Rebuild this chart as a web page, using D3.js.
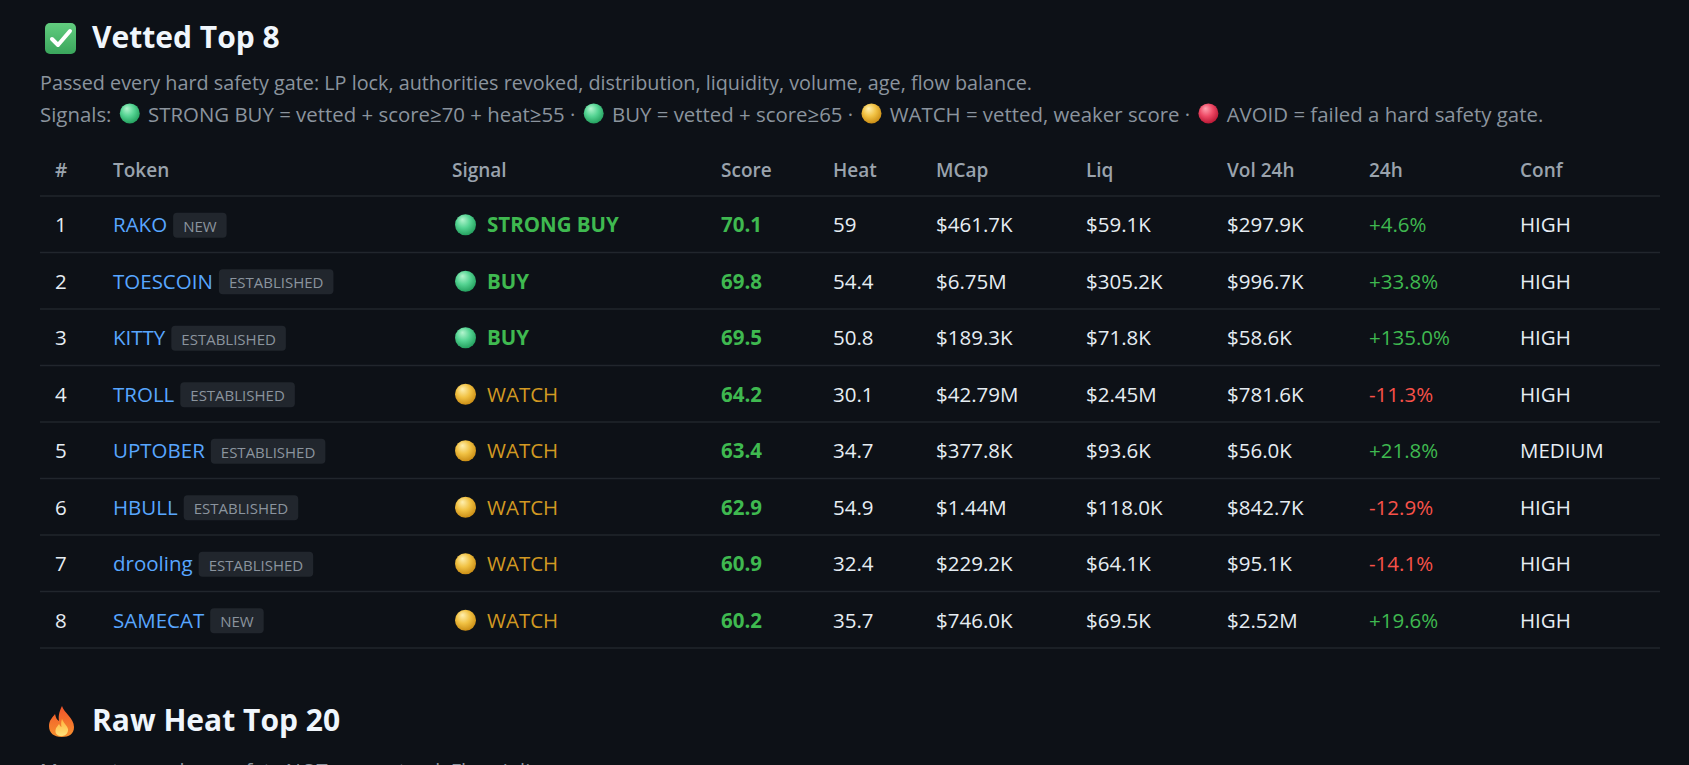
<!DOCTYPE html>
<html>
<head>
<meta charset="utf-8">
<script src="https://cdn.jsdelivr.net/npm/d3@7"></script>
<style>
html, body { margin: 0; padding: 0; background: #0d1117; }
svg { display: block; font-family: "Open Sans", "Noto Sans", sans-serif; }
</style>
</head>
<body>
<svg id="chart" width="1689" height="765"></svg>
<script>
// table data
var ranks = [1, 2, 3, 4, 5, 6, 7, 8];
var tokens = ['RAKO', 'TOESCOIN', 'KITTY', 'TROLL', 'UPTOBER', 'HBULL', 'drooling', 'SAMECAT'];
var ages = ['NEW', 'ESTABLISHED', 'ESTABLISHED', 'ESTABLISHED', 'ESTABLISHED', 'ESTABLISHED', 'ESTABLISHED', 'NEW'];
var signals = ['STRONG BUY', 'BUY', 'BUY', 'WATCH', 'WATCH', 'WATCH', 'WATCH', 'WATCH'];
var scores = [70.1, 69.8, 69.5, 64.2, 63.4, 62.9, 60.9, 60.2];
var heats = [59, 54.4, 50.8, 30.1, 34.7, 54.9, 32.4, 35.7];
var mcaps = [461700, 6750000, 189300, 42790000, 377800, 1440000, 229200, 746000];
var liqs = [59100, 305200, 71800, 2450000, 93600, 118000, 64100, 69500];
var vols = [297900, 996700, 58600, 781600, 56000, 842700, 95100, 2520000];
var changes = [4.6, 33.8, 135.0, -11.3, 21.8, -12.9, -14.1, 19.6];
var confs = ['HIGH', 'HIGH', 'HIGH', 'HIGH', 'MEDIUM', 'HIGH', 'HIGH', 'HIGH'];

var columns = ['#', 'Token', 'Signal', 'Score', 'Heat', 'MCap', 'Liq', 'Vol 24h', '24h', 'Conf'];

var width = 1689, height = 765;
var left = 40, right = 1660;

var svg = d3.select('#chart');

var C = {
    bg: '#0d1117', title: '#f0f6fc', text: '#e6edf3', muted: '#8b949e',
    head: '#9aa3ad', line: '#21262d', blue: '#58a6ff', badge: '#21262d',
    green: '#3fb950', orange: '#d29922', red: '#f85149'
};

var signalColor = { 'STRONG BUY': C.green, 'BUY': C.green, 'WATCH': C.orange, 'AVOID': C.red };
var signalDot = { 'STRONG BUY': 'green', 'BUY': 'green', 'WATCH': 'yellow', 'AVOID': 'red' };

svg.append('rect').attr('width', width).attr('height', height).attr('fill', C.bg);

// sphere gradients for the emoji dots
var defs = svg.append('defs');
var sphereStops = {
    green: ['#b4f5cf', '#55d493', '#1e9a58'],
    yellow: ['#fff0b0', '#f1c244', '#c6870f'],
    red: ['#ffa3b1', '#ee4a66', '#b3122f']
};
Object.keys(sphereStops).forEach(function (k) {
    var gr = defs.append('radialGradient').attr('id', 'sph-' + k)
        .attr('cx', '45%').attr('cy', '40%').attr('r', '65%')
        .attr('fx', '35%').attr('fy', '25%');
    gr.selectAll('stop').data(sphereStops[k]).enter().append('stop')
        .attr('offset', function (d, i) { return [0, 0.5, 1][i]; })
        .attr('stop-color', function (d) { return d; });
});
var chk = defs.append('linearGradient').attr('id', 'chk').attr('x1', 0).attr('y1', 0).attr('x2', 0).attr('y2', 1);
chk.append('stop').attr('offset', 0).attr('stop-color', '#62cd7f');
chk.append('stop').attr('offset', 1).attr('stop-color', '#3aa65c');
var fire = defs.append('linearGradient').attr('id', 'fire').attr('x1', 0).attr('y1', 0).attr('x2', 0).attr('y2', 1);
fire.append('stop').attr('offset', 0).attr('stop-color', '#f0522a');
fire.append('stop').attr('offset', 1).attr('stop-color', '#f7912e');
var fireIn = defs.append('linearGradient').attr('id', 'fireIn').attr('x1', 0).attr('y1', 0).attr('x2', 0).attr('y2', 1);
fireIn.append('stop').attr('offset', 0).attr('stop-color', '#ffb13b');
fireIn.append('stop').attr('offset', 1).attr('stop-color', '#ffe27a');

function sphere(g, cx, cy, r, kind) {
    g.append('circle').attr('cx', cx).attr('cy', cy).attr('r', r)
        .attr('fill', 'url(#sph-' + kind + ')');
}

function fmtMoney(v) {
    if (v >= 1e6) return '$' + (v / 1e6).toFixed(2) + 'M';
    return '$' + (v / 1e3).toFixed(1) + 'K';
}
function fmtPct(v) {
    return (v >= 0 ? '+' : '') + v.toFixed(1) + '%';
}

// draws text and dots one after the other, measuring each piece
function inlineRun(g, x, y, parts, size, color, dotR) {
    parts.forEach(function (p) {
        if (p.dot) {
            sphere(g, x + dotR + 3, y - size * 0.42, dotR, p.dot);
            x += dotR * 2 + 6;
        } else {
            var t = g.append('text').attr('x', x).attr('y', y)
                .attr('font-size', size).attr('fill', color)
                .style('white-space', 'pre').text(p.text);
            x += t.node().getComputedTextLength();
        }
    });
}

// ---- section 1 heading
var head1 = svg.append('g');
head1.append('rect').attr('x', 45).attr('y', 23).attr('width', 31).attr('height', 31)
    .attr('rx', 5).attr('fill', 'url(#chk)');
head1.append('path').attr('d', 'M52 39 L58 45 L70 31')
    .attr('fill', 'none').attr('stroke', '#fff').attr('stroke-width', 4)
    .attr('stroke-linecap', 'round').attr('stroke-linejoin', 'round');
head1.append('text').attr('x', 92).attr('y', 48)
    .attr('font-size', 30).attr('font-weight', 700).attr('fill', C.title)
    .text('Vetted Top 8');

var desc = svg.append('g');
inlineRun(desc, left, 90, [
    { text: 'Passed every hard safety gate: LP lock, authorities revoked, distribution, liquidity, volume, age, flow balance.' }
], 19.8, C.muted, 10);
inlineRun(desc, left, 122, [
    { text: 'Signals: ' }, { dot: 'green' },
    { text: ' STRONG BUY = vetted + score\u226570 + heat\u226555 \u00b7 ' }, { dot: 'green' },
    { text: ' BUY = vetted + score\u226565 \u00b7 ' }, { dot: 'yellow' },
    { text: ' WATCH = vetted, weaker score \u00b7 ' }, { dot: 'red' },
    { text: ' AVOID = failed a hard safety gate.' }
], 20.4, C.muted, 10);

// ---- table
var x = d3.scaleOrdinal()
    .domain(columns)
    .range([55, 113, 452, 721, 833, 936, 1086, 1227, 1369, 1520]);

var y = d3.scaleBand().domain(ranks).range([196, 648]);
var bw = y.bandwidth();
var fs = 20.5;

var table = svg.append('g');

table.selectAll('.th').data(columns).enter().append('text')
    .attr('class', 'th')
    .attr('x', function (d) { return x(d); })
    .attr('y', 177)
    .attr('font-size', 19).attr('font-weight', 600).attr('fill', C.head)
    .text(function (d) { return d; });

table.append('line').attr('x1', left).attr('x2', right).attr('y1', 196).attr('y2', 196)
    .attr('stroke', C.line).attr('stroke-width', 1.3);

var rows = table.selectAll('.row').data(ranks).enter().append('g')
    .attr('class', 'row')
    .attr('transform', function (d) { return 'translate(0,' + y(d) + ')'; });

rows.append('line').attr('x1', left).attr('x2', right).attr('y1', bw).attr('y2', bw)
    .attr('stroke', C.line).attr('stroke-width', 1.3);

var base = bw / 2 + fs * 0.38;
var mid = bw / 2;

function cell(col, fn, color, weight) {
    rows.append('text')
        .attr('x', x(col)).attr('y', base)
        .attr('font-size', fs).attr('font-weight', weight || 400)
        .attr('fill', function (d, i) { return typeof color === 'function' ? color(d, i) : color; })
        .text(fn);
}

cell('#', function (d) { return d; }, C.text);

rows.each(function (d, i) {
    var g = d3.select(this);
    var t = g.append('text').attr('x', x('Token')).attr('y', base)
        .attr('font-size', fs).attr('fill', C.blue).text(tokens[i]);
    var bx = x('Token') + t.node().getComputedTextLength() + 6;
    var b = g.append('g');
    var bt = b.append('text').attr('x', bx + 10).attr('y', mid + 15 * 0.36 + 2)
        .attr('font-size', 15).attr('fill', C.muted).text(ages[i]);
    var w = bt.node().getComputedTextLength() + 20;
    b.insert('rect', 'text').attr('x', bx).attr('y', mid - 11.5).attr('width', w).attr('height', 25)
        .attr('rx', 4).attr('fill', C.badge);

    sphere(g, x('Signal') + 13.5, mid + 0.5, 10.5, signalDot[signals[i]]);
    g.append('text').attr('x', x('Signal') + 35).attr('y', base)
        .attr('font-size', fs)
        .attr('font-weight', signals[i] === 'WATCH' ? 400 : 700)
        .attr('fill', signalColor[signals[i]]).text(signals[i]);
});

cell('Score', function (d, i) { return scores[i].toFixed(1); }, C.green, 700);
cell('Heat', function (d, i) { return String(heats[i]); }, C.text);
cell('MCap', function (d, i) { return fmtMoney(mcaps[i]); }, C.text);
cell('Liq', function (d, i) { return fmtMoney(liqs[i]); }, C.text);
cell('Vol 24h', function (d, i) { return fmtMoney(vols[i]); }, C.text);
cell('24h', function (d, i) { return fmtPct(changes[i]); }, function (d, i) { return changes[i] >= 0 ? C.green : C.red; });
cell('Conf', function (d, i) { return confs[i]; }, C.text);

// ---- section 2 heading (cut off by the window)
var head2 = svg.append('g').attr('transform', 'translate(48,706)');
head2.append('path')
    .attr('d', 'M14 0 C16 7 26 12 26 21 C26 28 21 31 13.5 31 C6 31 1 27 1 20 C1 14 5 11 7 8 C8 12 9 14 11 15 C10 9 12 4 14 0 Z')
    .attr('fill', 'url(#fire)');
head2.append('path')
    .attr('d', 'M14 13 C16 18 21 21 20 25 C19 29 16 30 13.5 30 C10 30 7 28 7.5 24 C8 21 10 20 11 18 C12 20 13 21 13.5 21 C13 18 13 16 14 13 Z')
    .attr('fill', 'url(#fireIn)');
svg.append('text').attr('x', 92).attr('y', 731)
    .attr('font-size', 30).attr('font-weight', 700).attr('fill', C.title)
    .text('Raw Heat Top 20');
svg.append('text').attr('x', left).attr('y', 778)
    .attr('font-size', 20).attr('fill', C.muted)
    .text('Momentum only \u2014 safety NOT guaranteed. Flags inline.');
</script>
</body>
</html>
